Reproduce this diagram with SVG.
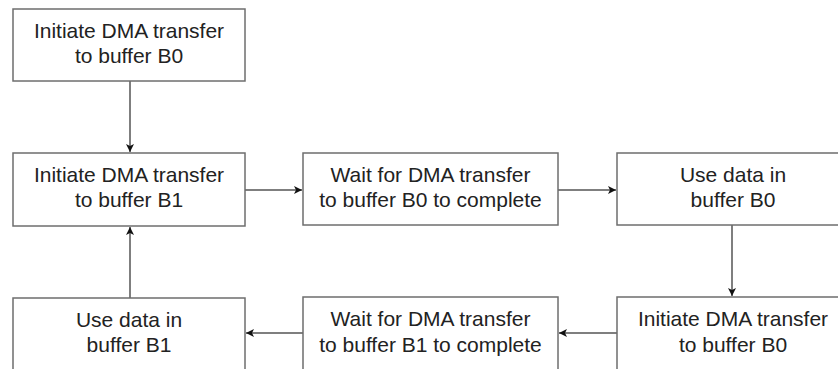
<svg xmlns="http://www.w3.org/2000/svg" width="838" height="369" viewBox="0 0 838 369">
<style>
.box{fill:#fff;stroke:#6e6e6e;stroke-width:1.5}
.t{font-family:"Liberation Sans",Arial,sans-serif;font-size:21px;fill:#222;text-anchor:middle}
.c{stroke:#555;stroke-width:1.5;fill:none;marker-end:url(#ah)}
</style>
<defs>
<marker id="ah" markerWidth="10" markerHeight="10" refX="9" refY="5" orient="auto" markerUnits="userSpaceOnUse">
<path d="M1,1 L9,5 L1,9 L3,5 Z" fill="#111"/>
</marker>
</defs>
<rect width="838" height="369" fill="#fff"/>
<g id="connectors">
<line class="c" x1="130" y1="81" x2="130" y2="152"/>
<line class="c" x1="245" y1="190" x2="302" y2="190"/>
<line class="c" x1="558" y1="190" x2="616" y2="190"/>
<line class="c" x1="732" y1="225" x2="732" y2="296"/>
<line class="c" x1="617" y1="333" x2="559" y2="333"/>
<line class="c" x1="303" y1="333" x2="246" y2="333"/>
<line class="c" x1="130" y1="298" x2="130" y2="227"/>
</g>
<g id="n1"><rect class="box" x="13" y="9" width="232" height="72"/>
<text class="t" x="129" y="38">Initiate DMA transfer</text><text class="t" x="129" y="63">to buffer B0</text></g>
<g id="n2"><rect class="box" x="13" y="153" width="232" height="73"/>
<text class="t" x="129" y="182">Initiate DMA transfer</text><text class="t" x="129" y="207">to buffer B1</text></g>
<g id="n3"><rect class="box" x="303" y="153" width="255" height="72"/>
<text class="t" x="430.5" y="182">Wait for DMA transfer</text><text class="t" x="430.5" y="207">to buffer B0 to complete</text></g>
<g id="n4"><rect class="box" x="617" y="153" width="232" height="72"/>
<text class="t" x="733" y="182">Use data in</text><text class="t" x="733" y="207">buffer B0</text></g>
<g id="n5"><rect class="box" x="617" y="297" width="232" height="80"/>
<text class="t" x="733" y="326">Initiate DMA transfer</text><text class="t" x="733" y="352">to buffer B0</text></g>
<g id="n6"><rect class="box" x="303" y="297" width="255" height="80"/>
<text class="t" x="430.5" y="326">Wait for DMA transfer</text><text class="t" x="430.5" y="352">to buffer B1 to complete</text></g>
<g id="n7"><rect class="box" x="13" y="298" width="232" height="80"/>
<text class="t" x="129" y="327">Use data in</text><text class="t" x="129" y="352">buffer B1</text></g>
</svg>
